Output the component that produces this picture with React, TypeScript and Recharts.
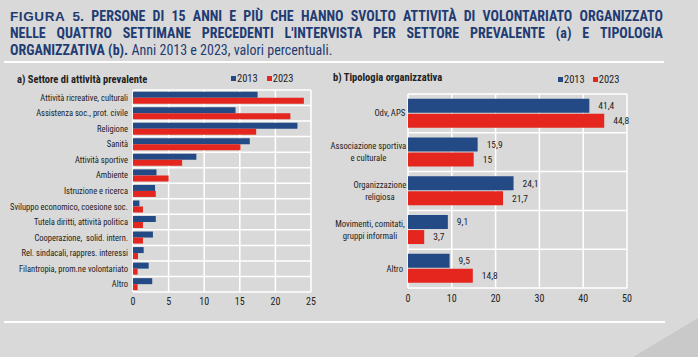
import React from 'react';
import { BarChart, Bar, XAxis, YAxis, CartesianGrid, Legend, LabelList } from 'recharts';

const sectorCategories = [
  'Attività ricreative, culturali',
  'Assistenza soc., prot. civile',
  'Religione',
  'Sanità',
  'Attività sportive',
  'Ambiente',
  'Istruzione e ricerca',
  'Sviluppo economico, coesione soc.',
  'Tutela diritti, attività politica',
  'Cooperazione,  solid. intern.',
  'Rel. sindacali, rappres. interessi',
  'Filantropia, prom.ne volontariato',
  'Altro',
];
const sector2013 = [17.5, 14.4, 23.1, 16.4, 8.9, 3.3, 3.1, 0.9, 3.2, 2.8, 1.5, 2.2, 2.7];
const sector2023 = [24.0, 22.1, 17.3, 15.1, 6.9, 5.0, 3.2, 1.4, 1.4, 1.4, 0.7, 0.65, 0.65];
const sectorTicks = [0, 5, 10, 15, 20, 25];

const orgCategories = [
  'Odv, APS',
  'Associazione sportiva\ne culturale',
  'Organizzazione\nreligiosa',
  'Movimenti, comitati,\ngruppi informali',
  'Altro',
];
const org2013 = [41.4, 15.9, 24.1, 9.1, 9.5];
const org2023 = [44.8, 15.0, 21.7, 3.7, 14.8];
const orgTicks = [0, 10, 20, 30, 40, 50];

const sectorData = sectorCategories.map((c, i) => ({ name: c, y2013: sector2013[i], y2023: sector2023[i] }));
const orgData = orgCategories.map((c, i) => ({ name: c, y2013: org2013[i], y2023: org2023[i] }));

const BLUE = '#234a85';
const RED = '#e5261f';
const BG = '#d9d9d9';
const NARROW = "'Liberation Sans Narrow', 'Arial Narrow', 'Roboto Condensed', 'Liberation Sans', sans-serif";
const TITLE = '#1f3c73';
const TEXT = '#222';

const bandLines = (n: number) => ({ offset }: any) =>
  Array.from({ length: n + 1 }, (_, i) => offset.top + (i * offset.height) / n);

const fmt = (v: any) => String(v).replace('.', ',');

const SectorTick = (props: any) => {
  const { x, y, payload } = props;
  return (
    <text x={x} y={y} dy="0.35em" textAnchor="end" fontSize={8.5} fontFamily={NARROW} fill={TEXT} style={{ whiteSpace: 'pre' }}>
      {payload.value}
    </text>
  );
};

const OrgTick = (props: any) => {
  const { x, y, payload } = props;
  const lines = String(payload.value).split('\n');
  const maxLen = Math.max(...lines.map((l) => l.length));
  const w = maxLen * 3.3;
  const cx = x - w / 2;
  const lh = 12;
  const startY = y - ((lines.length - 1) * lh) / 2;
  return (
    <text x={cx} y={startY} textAnchor="middle" fontSize={8.7} fontFamily={NARROW} fill={TEXT}>
      {lines.map((l, i) => (
        <tspan key={i} x={cx} y={startY + i * lh} dy="0.35em">{l}</tspan>
      ))}
    </text>
  );
};

const makeLegend = (fontSize: number, gap: number, sq: number) => (props: any) => {
  const { payload } = props;
  return (
    <div style={{ display: 'flex', alignItems: 'center', fontFamily: NARROW, fontSize, color: TEXT, whiteSpace: 'nowrap' }}>
      {(payload || []).map((p: any, i: number) => (
        <span key={i} style={{ display: 'flex', alignItems: 'center', marginRight: gap }}>
          <span style={{ display: 'inline-block', width: sq, height: sq, background: p.color, marginRight: 1 }} />
          <span>{p.value}</span>
        </span>
      ))}
    </div>
  );
};

export default function App() {
  return (
    <div style={{ position: 'fixed', left: 0, top: 0, width: 698, height: 357, background: BG, overflow: 'hidden', fontFamily: NARROW }}>
      <div style={{ position: 'absolute', left: 10, top: 8, width: 653, color: TITLE, fontSize: 14, lineHeight: '17px', fontWeight: 'bold' }}>
        <div style={{ whiteSpace: 'nowrap', display: 'flex', justifyContent: 'space-between', alignItems: 'baseline' }}>
          <span style={{ fontFamily: "'Liberation Sans', Arial, sans-serif", fontWeight: 'bold', fontSize: 13.5, letterSpacing: 0.6 }}>FIGURA</span>
          <span><span style={{ fontFamily: "'Liberation Sans', Arial, sans-serif", fontWeight: 'bold', fontSize: 13.5 }}>5</span>.</span>
          {'PERSONE DI 15 ANNI E PIÙ CHE HANNO SVOLTO ATTIVITÀ DI VOLONTARIATO ORGANIZZATO'.split(' ').map((w, i) => (
            <span key={i}>{w}</span>
          ))}
        </div>
        <div style={{ display: 'flex', justifyContent: 'space-between', whiteSpace: 'nowrap' }}>
          {"NELLE QUATTRO SETTIMANE PRECEDENTI L'INTERVISTA PER SETTORE PREVALENTE (a) E TIPOLOGIA".split(' ').map((w, i) => (
            <span key={i}>{w}</span>
          ))}
        </div>
        <div>
          ORGANIZZATIVA (b). <span style={{ fontWeight: 'normal' }}>Anni 2013 e 2023, valori percentuali.</span>
        </div>
      </div>
      <div style={{ position: 'absolute', left: 4, top: 61, width: 660, height: 2, background: '#fff' }} />
      <div style={{ position: 'absolute', left: 4, top: 321, width: 661, height: 2, background: '#fff' }} />
      <div style={{ position: 'absolute', left: 600, top: 280, width: 98, height: 77, background: '#c9c9c9', clipPath: 'polygon(33px 77px, 98px 38px, 98px 77px)' }} />

      <div style={{ position: 'absolute', left: 17, top: 73, fontSize: 10.5, fontWeight: 'bold', color: TEXT }}>a) Settore di attività prevalente</div>
      <div style={{ position: 'absolute', left: 333, top: 71, fontSize: 10.5, fontWeight: 'bold', color: TEXT }}>b) Tipologia organizzativa</div>

      <div style={{ position: 'absolute', left: 0, top: 0 }}>
        <BarChart
          width={320}
          height={320}
          data={sectorData}
          layout="vertical"
          margin={{ top: 90, right: 9, bottom: 8, left: 0 }}
          barCategoryGap="11%"
          barGap={0}
        >
          <CartesianGrid stroke="#fff" strokeWidth={1.5} horizontalCoordinatesGenerator={bandLines(sectorData.length)} />
          <XAxis type="number" domain={[0, 25]} ticks={sectorTicks} axisLine={false} tickLine={false} tickSize={0} tickMargin={6} height={20}
            tick={{ fontSize: 10, fontFamily: NARROW, fill: TEXT }} interval={0} />
          <YAxis type="category" dataKey="name" width={133} axisLine={false} tickLine={false} tickSize={0} tickMargin={5}
            tick={<SectorTick />} interval={0} />
          <Legend verticalAlign="middle" align="center" layout="horizontal" content={makeLegend(10.5, 9, 5)}
            wrapperStyle={{ position: 'absolute', left: 231, top: 72, width: 'auto', height: 16 }} />
          <Bar dataKey="y2013" name="2013" fill={BLUE} isAnimationActive={false} />
          <Bar dataKey="y2023" name="2023" fill={RED} isAnimationActive={false} />
        </BarChart>
      </div>

      <div style={{ position: 'absolute', left: 320, top: 0 }}>
        <BarChart
          width={320}
          height={320}
          data={orgData}
          layout="vertical"
          margin={{ top: 94, right: 13, bottom: 12, left: 0 }}
          barCategoryGap="12%"
          barGap={1}
        >
          <CartesianGrid stroke="#fff" strokeWidth={1.5} horizontalCoordinatesGenerator={bandLines(orgData.length)} />
          <XAxis type="number" domain={[0, 50]} ticks={orgTicks} axisLine={false} tickLine={false} tickSize={0} tickMargin={7} height={20}
            tick={{ fontSize: 10, fontFamily: NARROW, fill: TEXT }} interval={0} />
          <YAxis type="category" dataKey="name" width={88} axisLine={false} tickLine={false} tickSize={0} tickMargin={5}
            tick={<OrgTick />} interval={0} />
          <Legend verticalAlign="middle" align="center" layout="horizontal" content={makeLegend(10.5, 8, 5)}
            wrapperStyle={{ position: 'absolute', left: 238, top: 73, width: 'auto', height: 16 }} />
          <Bar dataKey="y2013" name="2013" fill={BLUE} isAnimationActive={false}>
            <LabelList dataKey="y2013" position="right" offset={9} formatter={fmt} style={{ fontSize: 9.5, fontFamily: NARROW, fill: TEXT }} />
          </Bar>
          <Bar dataKey="y2023" name="2023" fill={RED} isAnimationActive={false}>
            <LabelList dataKey="y2023" position="right" offset={9} formatter={fmt} style={{ fontSize: 9.5, fontFamily: NARROW, fill: TEXT }} />
          </Bar>
        </BarChart>
      </div>
    </div>
  );
}
